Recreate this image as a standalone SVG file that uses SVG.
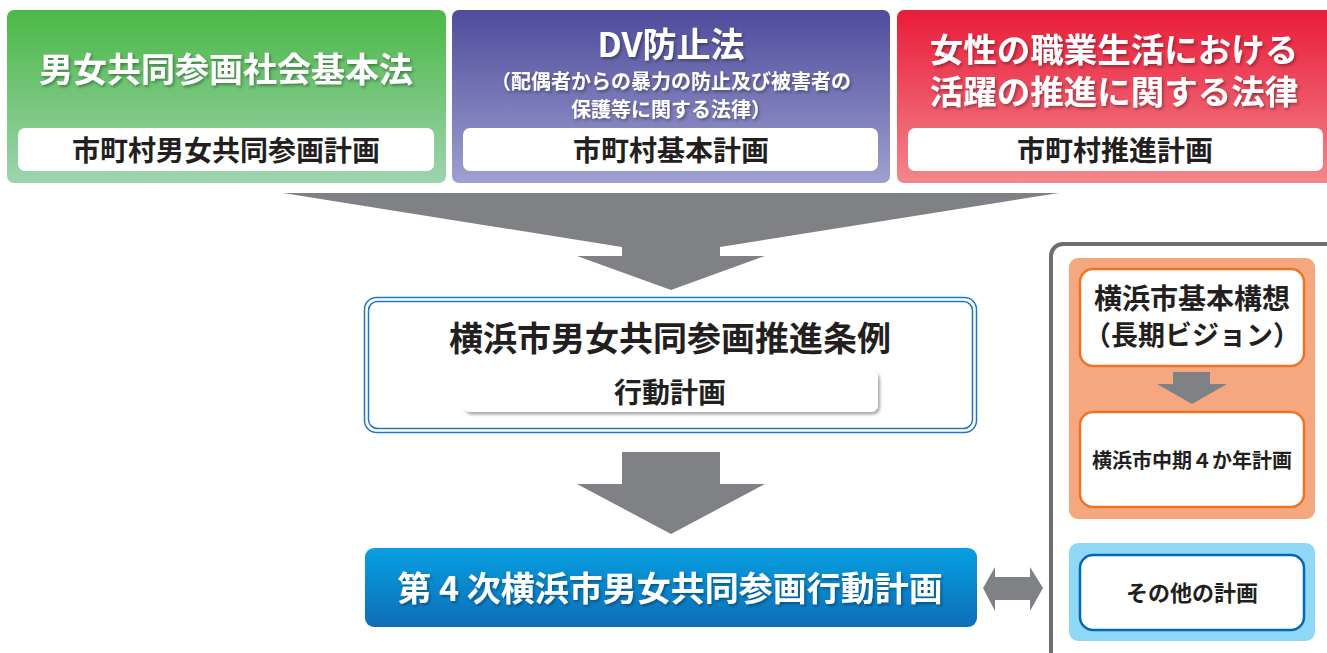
<svg xmlns="http://www.w3.org/2000/svg" width="1327" height="653" viewBox="0 0 1327 653">
<defs>
<linearGradient id="gGreen" x1="0" y1="0" x2="0" y2="1"><stop offset="0" stop-color="#4cb847"/><stop offset="1" stop-color="#9dd4ae"/></linearGradient>
<linearGradient id="gPurple" x1="0" y1="0" x2="0" y2="1"><stop offset="0" stop-color="#4e4c9c"/><stop offset="1" stop-color="#9fa0d0"/></linearGradient>
<linearGradient id="gRed" x1="0" y1="0" x2="0" y2="1"><stop offset="0" stop-color="#e91c39"/><stop offset="1" stop-color="#f3878d"/></linearGradient>
<linearGradient id="gBlue" x1="0" y1="0" x2="0" y2="1"><stop offset="0" stop-color="#069fe0"/><stop offset="1" stop-color="#0e6eb8"/></linearGradient>
<filter id="tshadow" x="-10%" y="-30%" width="120%" height="160%"><feDropShadow dx="1.5" dy="2" stdDeviation="1.5" flood-color="#000" flood-opacity="0.35"/></filter>
<filter id="bshadow" x="-5%" y="-20%" width="112%" height="150%"><feDropShadow dx="2" dy="2.5" stdDeviation="1.5" flood-color="#000" flood-opacity="0.35"/></filter>
<style>
text{font-family:"Noto Sans CJK JP","Noto Sans",sans-serif;font-weight:700;text-anchor:middle}
.wt{fill:#fff;filter:url(#tshadow)}
.dk{fill:#231f20}
.inner{fill:#fff}
.arrow{fill:#808184}
.orangebox{fill:#fff;stroke:#f07323;stroke-width:2.5}
.bluebox{fill:#fff;stroke:#0068b7;stroke-width:2.5}
</style>
</defs>

<g id="law-gender">
<rect x="7" y="10" width="439" height="173" rx="7" fill="url(#gGreen)"/>
<text class="wt" x="226" y="82" font-size="34">男女共同参画社会基本法</text>
<rect class="inner" x="18" y="128" width="416" height="43" rx="7"/>
<text class="dk" x="226" y="161" font-size="28">市町村男女共同参画計画</text>
</g>

<g id="law-dv">
<rect x="452" y="10" width="438" height="173" rx="7" fill="url(#gPurple)"/>
<text class="wt" x="671" y="57" font-size="34">DV防止法</text>
<text class="wt" x="671" y="89" font-size="20">（配偶者からの暴力の防止及び被害者の</text>
<text class="wt" x="671" y="117" font-size="20">保護等に関する法律）</text>
<rect class="inner" x="463" y="128" width="415" height="43" rx="7"/>
<text class="dk" x="671" y="161" font-size="28">市町村基本計画</text>
</g>

<g id="law-women">
<rect x="897" y="10" width="440" height="173" rx="7" fill="url(#gRed)"/>
<text class="wt" x="1114" y="62" font-size="33.5">女性の職業生活における</text>
<text class="wt" x="1114" y="104" font-size="33.5">活躍の推進に関する法律</text>
<rect class="inner" x="908" y="128" width="415" height="43" rx="7"/>
<text class="dk" x="1115" y="161" font-size="28">市町村推進計画</text>
</g>

<g id="ordinance">
<rect x="364.5" y="297.5" width="612" height="135" rx="12" fill="#fff" stroke="#1e78c2" stroke-width="1.5"/>
<rect x="368.5" y="301.5" width="604" height="127" rx="9" fill="#fff" stroke="#1e78c2" stroke-width="1.5"/>
<text class="dk" x="670" y="351" font-size="34">横浜市男女共同参画推進条例</text>
<rect x="463" y="370" width="415" height="42" rx="7" fill="#fff" filter="url(#bshadow)"/>
<text class="dk" x="670" y="403" font-size="28">行動計画</text>
</g>

<g id="action-plan">
<rect x="365" y="548" width="612" height="79" rx="9" fill="url(#gBlue)"/>
<text class="wt" x="670" y="601" font-size="34">第 4 次横浜市男女共同参画行動計画</text>
</g>

<g id="city-plans">
<rect x="1051" y="244" width="320" height="450" rx="12" fill="#fff" stroke="#6d6e71" stroke-width="4"/>
<rect x="1069" y="258" width="246" height="261" rx="9" fill="#f5a880"/>
<rect x="1069" y="543" width="246" height="98" rx="9" fill="#8fd8f6"/>
</g>

<g id="basic-vision">
<rect class="orangebox" x="1080" y="269" width="224" height="97" rx="13"/>
<text class="dk" x="1192" y="309" font-size="28">横浜市基本構想</text>
<text class="dk" x="1192" y="345" font-size="27">（長期ビジョン）</text>
</g>

<g id="midterm-plan">
<rect class="orangebox" x="1080" y="412" width="224" height="95" rx="13"/>
<text class="dk" x="1192" y="468" font-size="20">横浜市中期４か年計画</text>
</g>

<g id="other-plans">
<rect class="bluebox" x="1080" y="555" width="224" height="75" rx="13"/>
<text class="dk" x="1192" y="601" font-size="22">その他の計画</text>
</g>

<g id="connectors">
<polygon class="arrow" points="283,193 1059,193 720,247 720,256 765,256 671,290 577,256 622,256 622,247"/>
<polygon class="arrow" points="622,452 720,452 720,484 765,484 671,534 577,484 622,484"/>
<polygon class="arrow" points="1173,372 1210,372 1210,384 1227,384 1192,404 1157,384 1173,384"/>
<polygon class="arrow" points="983,588 995,567 995,577 1030,577 1030,567 1043,588 1030,611 1030,600 995,600 995,611"/>
</g>
</svg>
